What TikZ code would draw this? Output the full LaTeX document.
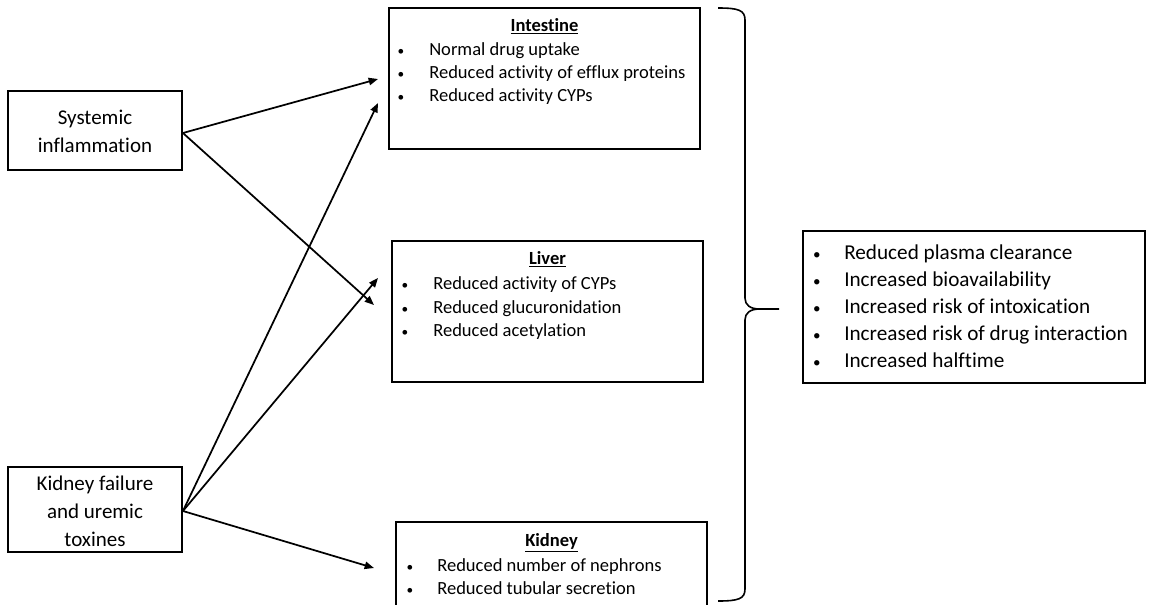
\documentclass[tikz,border=0pt]{standalone}
\usepackage{fontspec}
\setmainfont{Carlito}[Ligatures={NoCommon},RawFeature={-liga;-clig}]
\usetikzlibrary{arrows.meta,fit}
\newcommand{\smbul}{\scalebox{0.72}{\textbullet}}
\begin{document}
\begin{tikzpicture}[x=0.75pt,y=-0.75pt,
  box/.style={draw, line width=1.4pt, inner sep=0pt, rectangle},
  src/.style={inner sep=0pt, anchor=base, font=\fontsize{15.75}{21}\selectfont},
  mid/.style={inner sep=0pt, anchor=base west, font=\fontsize{13.9}{17}\selectfont},
  midb/.style={inner sep=0pt, anchor=base, font=\fontsize{13.9}{17}\selectfont},
  head/.style={inner sep=0pt, anchor=base, font=\fontsize{13.9}{17}\selectfont\bfseries},
  res/.style={inner sep=0pt, anchor=base west, font=\fontsize{15.9}{21}\selectfont},
  resb/.style={inner sep=0pt, anchor=base, font=\fontsize{15.75}{21}\selectfont},
  arr/.style={line width=1.3pt, -{Triangle[length=7pt,width=5.5pt]}},
  brace/.style={line width=1.2pt}]
\clip (0,0) rectangle (1149,604);
\fill[white] (0,0) rectangle (1149,604);

% source boxes
\coordinate (s1) at (8,91); \coordinate (s2) at (182,170);
\node[box, fit=(s1)(s2)] (sys) {};
\node[src] (sysA) at (95,124) {Systemic};
\node[src] (sysB) at (95,152) {inflammation};

\coordinate (k1) at (8,467); \coordinate (k2) at (182,552);
\node[box, fit=(k1)(k2)] (kf) {};
\node[src] (kfA) at (95,490) {Kidney failure};
\node[src] (kfB) at (95,518) {and uremic};
\node[src] (kfC) at (95,546) {toxines};

% Intestine
\coordinate (i1) at (389,8); \coordinate (i2) at (700,149);
\node[box, fit=(i1)(i2)] (int) {};
\node[head] (intH) at (544.5,31) {\underline{Intestine}};
\node[midb] (intb1) at (401,55) {\smbul};
\node[mid] (int1) at (429,55) {Normal drug uptake};
\node[midb] (intb2) at (401,78) {\smbul};
\node[mid] (int2) at (429,78) {Reduced activity of efflux proteins};
\node[midb] (intb3) at (401,101) {\smbul};
\node[mid] (int3) at (429,101) {Reduced activity CYPs};

% Liver
\coordinate (l1) at (392,241); \coordinate (l2) at (703,382);
\node[box, fit=(l1)(l2)] (liv) {};
\node[head] (livH) at (547.5,264) {\underline{Liver}};
\node[midb] (livb1) at (405,289) {\smbul};
\node[mid] (liv1) at (433,289) {Reduced activity of CYPs};
\node[midb] (livb2) at (405,313) {\smbul};
\node[mid] (liv2) at (433,313) {Reduced glucuronidation};
\node[midb] (livb3) at (405,336) {\smbul};
\node[mid] (liv3) at (433,336) {Reduced acetylation};

% Kidney
\coordinate (d1) at (396,522); \coordinate (d2) at (707,650);
\node[box, fit=(d1)(d2)] (kid) {};
\node[head] (kidH) at (551.5,546) {\underline{Kidney}};
\node[midb] (kidb1) at (410,571) {\smbul};
\node[mid] (kid1) at (437,571) {Reduced number of nephrons};
\node[midb] (kidb2) at (410,594) {\smbul};
\node[mid] (kid2) at (437,594) {Reduced tubular secretion};

% Result box
\coordinate (r1) at (803,231); \coordinate (r2) at (1145,383);
\node[box, fit=(r1)(r2)] (res) {};
\node[resb] (rb1) at (817,259) {\smbul};
\node[res] (r1t) at (844,259) {Reduced plasma clearance};
\node[resb] (rb2) at (817,286) {\smbul};
\node[res] (r2t) at (844,286) {Increased bioavailability};
\node[resb] (rb3) at (817,313) {\smbul};
\node[res] (r3t) at (844,313) {Increased risk of intoxication};
\node[resb] (rb4) at (817,340) {\smbul};
\node[res] (r4t) at (844,340) {Increased risk of drug interaction};
\node[resb] (rb5) at (817,367) {\smbul};
\node[res] (r5t) at (844,367) {Increased halftime};

% arrows
\coordinate (tA) at (378,79);
\coordinate (tB) at (374,305);
\coordinate (tC) at (378,103);
\coordinate (tD) at (378,278);
\coordinate (tE) at (374,568);
\draw[arr] (sys.east |- 0,133) -- (tA);
\draw[arr] (sys.east |- 0,133) -- (tB);
\draw[arr] (kf.east |- 0,511) -- (tC);
\draw[arr] (kf.east |- 0,511) -- (tD);
\draw[arr] (kf.east |- 0,511) -- (tE);

% brace
\coordinate (bt) at (718,8);
\coordinate (bb) at (718,601);
\coordinate (bm) at (779,309);
\draw[brace] (bt) .. controls (738,8) and (745,10) .. (745,20)
  -- (745,298) .. controls (745,305) and (750,309) .. (760,309) -- (bm);
\draw[brace] (bb) .. controls (738,601) and (745,599) .. (745,589)
  -- (745,320) .. controls (745,313) and (750,309) .. (760,309);
\end{tikzpicture}
\end{document}
